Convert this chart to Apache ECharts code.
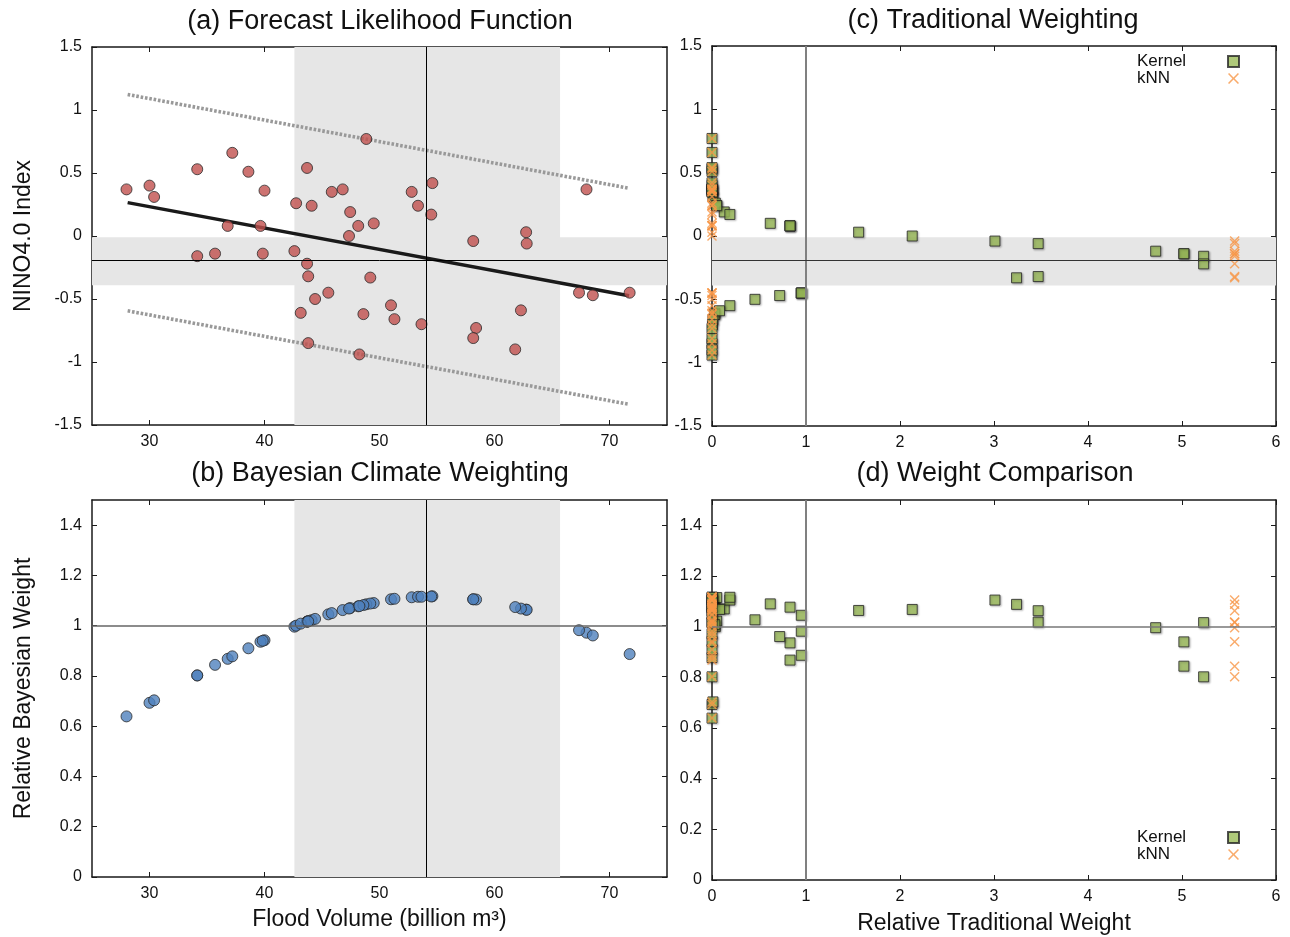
<!DOCTYPE html>
<html>
<head>
<meta charset="utf-8">
<script src="https://cdn.jsdelivr.net/npm/echarts@6/dist/echarts.min.js"></script>
<style>html,body{margin:0;padding:0;background:#fff}#c{width:1290px;height:937px}</style>
</head>
<body>
<div id="c"></div>
<script>
// ---- data ----
const flood = [28.0, 30.0, 30.4, 34.15, 34.15, 35.7, 36.8, 37.2, 38.6, 40.0, 39.65, 39.85, 42.6, 42.75, 43.7, 44.1, 43.7, 43.8, 43.15, 44.4, 45.55, 43.8, 45.85, 46.8, 47.45, 48.15, 47.35, 49.5, 48.85, 49.2, 48.6, 48.25, 51.0, 51.3, 52.8, 53.35, 54.6, 54.5, 53.65, 58.15, 58.4, 58.15, 62.75, 62.8, 62.3, 61.8, 68.0, 67.35, 68.55, 71.75];
const nino = [0.37, 0.40, 0.31, 0.53, -0.16, -0.14, 0.08, 0.66, 0.51, 0.36, 0.08, -0.14, -0.12, 0.26, 0.54, 0.24, -0.22, -0.32, -0.61, -0.50, -0.45, -0.85, 0.35, 0.37, 0.19, 0.08, 0.00, 0.10, 0.77, -0.33, -0.62, -0.94, -0.55, -0.66, 0.35, 0.24, 0.42, 0.17, -0.70, -0.04, -0.73, -0.81, 0.03, -0.06, -0.59, -0.90, 0.37, -0.45, -0.47, -0.45];
const bayesW = [0.639, 0.693, 0.703, 0.802, 0.802, 0.844, 0.868, 0.878, 0.910, 0.942, 0.936, 0.940, 0.996, 1.000, 1.016, 1.022, 1.016, 1.018, 1.008, 1.027, 1.045, 1.017, 1.050, 1.062, 1.070, 1.077, 1.068, 1.090, 1.085, 1.088, 1.082, 1.078, 1.105, 1.107, 1.113, 1.115, 1.117, 1.116, 1.115, 1.105, 1.104, 1.105, 1.064, 1.063, 1.068, 1.074, 0.972, 0.982, 0.961, 0.887];
const kernelW = [0, 0, 0.01, 0, 5.23, 5.02, 0.83, 0, 0, 0, 0.83, 5.02, 4.72, 0.035, 0, 0.05, 5.23, 3.47, 0.03, 0.457, 0.95, 0, 0, 0, 0.13, 0.83, 2.13, 0.62, 0, 3.24, 0.03, 0, 0.19, 0.01, 0, 0.05, 0, 0.19, 0.005, 3.01, 0, 0, 1.56, 3.47, 0.08, 0, 0, 0.95, 0.72, 0.95];
const knnW = [0, 0, 0, 0, 5.56, 5.56, 0, 0, 0, 0, 0, 5.56, 5.56, 0, 0, 0, 5.56, 5.56, 0, 0, 0, 0, 0, 0, 0, 0, 0, 0, 0, 5.56, 0, 0, 0, 0, 0, 0, 0, 0, 0, 5.56, 0, 0, 0, 5.56, 0, 0, 0, 0, 0, 0];
const regLine = [[28.1, 0.265], [71.7, -0.474]];
const upperBound = [[28.1, 1.123], [71.7, 0.379]];
const lowerBound = [[28.1, -0.594], [71.7, -1.336]];
const forecastFlood = 54.05;
const forecastNino = -0.19;
const floodBand = [42.6, 65.7];
const ninoBand = [-0.39, -0.01];
const floodTicks = [30, 40, 50, 60, 70];
const ninoTicks = [-1.5, -1, -0.5, 0, 0.5, 1, 1.5];
const weightTicks = [0, 0.2, 0.4, 0.6, 0.8, 1, 1.2, 1.4];
const tradTicks = [0, 1, 2, 3, 4, 5, 6];
const titles = ['(a) Forecast Likelihood Function', '(b) Bayesian Climate Weighting', '(c) Traditional Weighting', '(d) Weight Comparison'];

const FONT = '"Liberation Sans", Arial, sans-serif';
const INK = '#1a1a1a';
const CROSS = 'path://M0,1L1,0L5,4L9,0L10,1L6,5L10,9L9,10L5,6L1,10L0,9L4,5Z';

function axes(kind, grid, min, max, ticks, extra) {
  const main = {
    type: 'value', gridIndex: grid, min: min, max: max,
    position: kind === 'x' ? 'bottom' : 'left',
    axisLine: {show: true, onZero: false, lineStyle: {color: INK, width: 1.5}},
    axisTick: {show: true, inside: true, length: 5, customValues: ticks, lineStyle: {color: INK, width: 1}},
    axisLabel: {show: true, customValues: ticks, color: '#111', fontSize: 16, fontFamily: FONT, margin: kind === 'x' ? 9 : 10},
    splitLine: {show: false},
    nameTextStyle: {color: '#111', fontSize: 23, fontFamily: FONT},
    nameLocation: 'middle'
  };
  Object.assign(main, extra || {});
  const mirror = {
    type: 'value', gridIndex: grid, min: min, max: max,
    position: kind === 'x' ? 'top' : 'right',
    axisLine: {show: true, onZero: false, lineStyle: {color: INK, width: 1.5}},
    axisTick: {show: true, inside: true, length: 5, customValues: ticks, lineStyle: {color: INK, width: 1}},
    axisLabel: {show: false},
    splitLine: {show: false}
  };
  return [main, mirror];
}

const grids = [
  {left: 92, top: 47, width: 575, height: 378},
  {left: 92, top: 500, width: 575, height: 377},
  {left: 712, top: 46, width: 564, height: 380},
  {left: 712, top: 500, width: 564, height: 380}
];

const xAxis = [].concat(
  axes('x', 0, 25, 75, floodTicks),
  axes('x', 1, 25, 75, floodTicks, {name: 'Flood Volume (billion m\u00B3)', nameGap: 31}),
  axes('x', 2, 0, 6, tradTicks),
  axes('x', 3, 0, 6, tradTicks, {name: 'Relative Traditional Weight', nameGap: 32})
);
const yAxis = [].concat(
  axes('y', 0, -1.5, 1.5, ninoTicks, {name: 'NINO4.0 Index', nameGap: 57}),
  axes('y', 1, 0, 1.5, weightTicks, {name: 'Relative Bayesian Weight', nameGap: 57}),
  axes('y', 2, -1.5, 1.5, ninoTicks),
  axes('y', 3, 0, 1.5, weightTicks)
);

const band = {color: '#e6e6e6'};
function refLine(axisKey, v, color, width) {
  const d = {lineStyle: {color: color, width: width, type: 'solid'}};
  d[axisKey] = v;
  return d;
}
function helper(ax, areas, lines) {
  return {
    type: 'scatter', xAxisIndex: ax, yAxisIndex: ax, data: [], z: 1, silent: true,
    markArea: {silent: true, itemStyle: band, data: areas},
    markLine: {silent: true, symbol: ['none', 'none'], label: {show: false}, animation: false, data: lines}
  };
}

const pointStyle = (c) => ({color: c, borderColor: '#2a2a2a', borderWidth: 1});
const kernelStyle = {color: '#9bbb59', borderColor: '#262626', borderWidth: 1, shadowColor: 'rgba(0,0,0,0.3)', shadowBlur: 2, shadowOffsetX: 1, shadowOffsetY: 1};
const knnStyle = {color: '#f79646'};

const series = [
  helper(0,
    [[{xAxis: floodBand[0]}, {xAxis: floodBand[1]}], [{yAxis: ninoBand[0]}, {yAxis: ninoBand[1]}]],
    [refLine('xAxis', forecastFlood, '#000', 1), refLine('yAxis', forecastNino, '#000', 1)]),
  {type: 'line', xAxisIndex: 0, yAxisIndex: 0, data: upperBound, symbol: 'none', z: 2,
   lineStyle: {color: '#999999', width: 3.6, type: [2.6, 1.8], cap: 'butt'}},
  {type: 'line', xAxisIndex: 0, yAxisIndex: 0, data: lowerBound, symbol: 'none', z: 2,
   lineStyle: {color: '#999999', width: 3.6, type: [2.6, 1.8], cap: 'butt'}},
  {type: 'line', xAxisIndex: 0, yAxisIndex: 0, data: regLine, symbol: 'none', z: 2,
   lineStyle: {color: INK, width: 3.5}},
  {type: 'scatter', xAxisIndex: 0, yAxisIndex: 0, z: 3, symbol: 'circle', symbolSize: 11,
   itemStyle: pointStyle('#c0504d'), data: flood.map((f, i) => [f, nino[i]])},

  helper(2,
    [[{xAxis: floodBand[0]}, {xAxis: floodBand[1]}]],
    [refLine('xAxis', forecastFlood, '#000', 1), refLine('yAxis', 1, '#666', 1.5)]),
  {type: 'scatter', xAxisIndex: 2, yAxisIndex: 2, z: 3, symbol: 'circle', symbolSize: 11,
   itemStyle: pointStyle('#4f81bd'), data: flood.map((f, i) => [f, bayesW[i]])},

  helper(4,
    [[{yAxis: ninoBand[0]}, {yAxis: ninoBand[1]}]],
    [refLine('xAxis', 1, '#808080', 2), refLine('yAxis', forecastNino, '#333', 1)]),
  {name: 'Kernel', type: 'scatter', xAxisIndex: 4, yAxisIndex: 4, z: 3, symbol: 'rect', symbolSize: 10,
   itemStyle: kernelStyle, data: kernelW.map((w, i) => [w, nino[i]])},
  {name: 'kNN', type: 'scatter', xAxisIndex: 4, yAxisIndex: 4, z: 4, symbol: CROSS, symbolSize: 10,
   itemStyle: knnStyle, data: knnW.map((w, i) => [w, nino[i]])},

  helper(6, [],
    [refLine('xAxis', 1, '#808080', 2), refLine('yAxis', 1, '#777', 1.5)]),
  {name: 'Kernel', type: 'scatter', xAxisIndex: 6, yAxisIndex: 6, z: 3, symbol: 'rect', symbolSize: 10,
   itemStyle: kernelStyle, data: kernelW.map((w, i) => [w, bayesW[i]])},
  {name: 'kNN', type: 'scatter', xAxisIndex: 6, yAxisIndex: 6, z: 4, symbol: CROSS, symbolSize: 10,
   itemStyle: knnStyle, data: knnW.map((w, i) => [w, bayesW[i]])}
];

const titleCenters = [[380, 8], [380, 460], [993, 7], [995, 460]];
const title = titles.map((t, i) => ({
  text: t, left: titleCenters[i][0], top: titleCenters[i][1], textAlign: 'center', padding: 0,
  textStyle: {color: '#111', fontSize: 27, fontWeight: 'normal', fontFamily: FONT}
}));

function legend(top) {
  return {
    data: ['Kernel', 'kNN'], left: 1137, top: top, orient: 'vertical', align: 'right',
    itemWidth: 11, itemHeight: 11, itemGap: 0, padding: 0, selectedMode: false,
    formatter: '{t|{name}}',
    textStyle: {color: '#111', fontSize: 17, fontFamily: FONT, lineHeight: 17,
      rich: {t: {width: 86, align: 'left', fontSize: 17, lineHeight: 17, fontFamily: FONT, color: '#111'}}}
  };
}

const chart = echarts.init(document.getElementById('c'), null, {renderer: 'canvas'});
chart.setOption({
  animation: false,
  backgroundColor: '#fff',
  title: title,
  grid: grids,
  xAxis: xAxis,
  yAxis: yAxis,
  legend: [legend(53), legend(829)],
  series: series
});
</script>
</body>
</html>
